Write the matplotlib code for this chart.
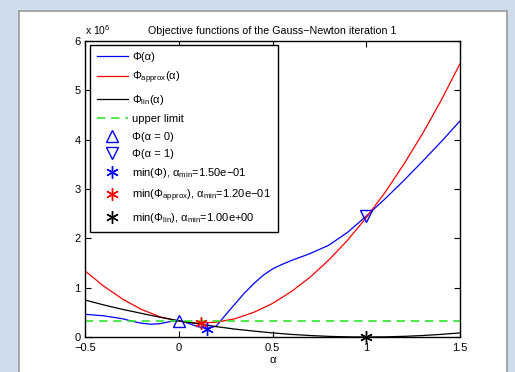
import matplotlib
matplotlib.use("Agg")
import matplotlib.pyplot as plt
from matplotlib.patches import Rectangle
import numpy as np

plt.rcParams['font.family'] = ['Liberation Sans', 'DejaVu Sans']
plt.rcParams['mathtext.fontset'] = 'custom'
plt.rcParams['mathtext.rm'] = 'Liberation Sans'
plt.rcParams['mathtext.it'] = 'Liberation Sans'
plt.rcParams['font.size'] = 8

# alpha grid (step sizes), values in units of 1e6
alpha_phi = [-0.5, -0.4, -0.3, -0.25, -0.2, -0.15, -0.1, -0.05, 0.0, 0.05, 0.1, 0.15,
             0.2, 0.25, 0.3, 0.35, 0.4, 0.45, 0.5, 0.55, 0.6, 0.7, 0.8, 0.9, 1.0,
             1.1, 1.2, 1.3, 1.4, 1.5]
phi = [0.46, 0.43, 0.37, 0.32, 0.28, 0.26, 0.27, 0.31, 0.33, 0.28, 0.21, 0.17,
       0.22, 0.45, 0.67, 0.89, 1.08, 1.25, 1.38, 1.47, 1.55, 1.69, 1.86, 2.12, 2.45,
       2.80, 3.17, 3.56, 3.96, 4.38]

alpha_grid = [-0.5, -0.4, -0.3, -0.2, -0.1, 0.0, 0.1, 0.2, 0.3, 0.4, 0.5, 0.6, 0.7,
              0.8, 0.9, 1.0, 1.1, 1.2, 1.3, 1.4, 1.5]
phi_approx = [1.34, 1.03, 0.77, 0.56, 0.41, 0.32, 0.28, 0.30, 0.37, 0.50, 0.68, 0.92,
              1.21, 1.56, 1.96, 2.42, 2.93, 3.50, 4.12, 4.80, 5.54]
phi_lin = [0.75, 0.65, 0.56, 0.48, 0.40, 0.33, 0.27, 0.21, 0.16, 0.12, 0.083, 0.053,
           0.030, 0.013, 0.003, 0.0, 0.003, 0.013, 0.030, 0.053, 0.083]

upper_limit = 0.33

phi0 = (0.0, 0.33)
phi1 = (1.0, 2.45)
min_phi = (0.15, 0.17)
min_approx = (0.12, 0.28)
min_lin = (1.0, 0.0)

labels = [r'Φ(α)', r'Φ$_{\mathrm{approx}}$(α)', r'Φ$_{\mathrm{lin}}$(α)', 'upper limit',
          'Φ(α = 0)', 'Φ(α = 1)',
          r'min(Φ), α$_{\mathrm{min}}$=1.50e−01',
          r'min(Φ$_{\mathrm{approx}}$), α$_{\mathrm{min}}$=1.20e−01',
          r'min(Φ$_{\mathrm{lin}}$), α$_{\mathrm{min}}$=1.00e+00']

fig = plt.figure(figsize=(5.15, 3.72), dpi=100)
fig.patch.set_facecolor('#cfdcec')
panel = Rectangle((19 / 515, -0.01), (507 - 19) / 515, 1 - 11 / 372 + 0.01,
                  transform=fig.transFigure, facecolor='white', edgecolor='#9a9a9a',
                  linewidth=1.2, zorder=-10)
fig.patches.append(panel)

ax = fig.add_axes([85 / 515, 1 - 337 / 372, (460 - 85) / 515, (337 - 41) / 372])
ax.set_zorder(1)

star = (6, 2, 0)
lw = 0.9
ax.plot(alpha_phi, phi, color='blue', lw=lw, label=labels[0])
ax.plot(alpha_grid, phi_approx, color='red', lw=lw, label=labels[1])
ax.plot(alpha_grid, phi_lin, color='black', lw=lw, label=labels[2])
ax.plot([alpha_grid[0], alpha_grid[-1]], [upper_limit, upper_limit], color='#2ee62e',
        lw=1.2, dashes=(5, 3.5), label=labels[3])
ax.plot(*phi0, ls='none', marker='^', ms=9, mfc='none', mec='blue', mew=1, label=labels[4])
ax.plot(*phi1, ls='none', marker='v', ms=9, mfc='none', mec='blue', mew=1, label=labels[5])
ax.plot(*min_phi, ls='none', marker=star, ms=9, color='blue', mew=1, label=labels[6])
ax.plot(*min_approx, ls='none', marker=star, ms=9, color='red', mew=1, label=labels[7])
ax.plot(*min_lin, ls='none', marker=star, ms=9, color='black', mew=1, label=labels[8],
        clip_on=False)

ax.set_xlim(-0.5, 1.5)
ax.set_ylim(0, 6)
ax.set_xticks([-0.5, 0, 0.5, 1, 1.5])
ax.set_xticklabels(['−0.5', '0', '0.5', '1', '1.5'])
ax.set_yticks(range(7))
ax.set_yticklabels([str(i) for i in range(7)])
ax.tick_params(direction='in', top=True, right=True, length=4, width=0.8, pad=3)
ax.tick_params(axis='x', pad=4)
for s in ax.spines.values():
    s.set_linewidth(1.0)

ax.text(0.0, 1.012, 'x 10$^{6}$', transform=ax.transAxes, ha='left', va='bottom',
        fontsize=7.5)
ax.set_title('Objective functions of the Gauss−Newton iteration 1', fontsize=7.7, pad=5)
ax.set_xlabel('α', labelpad=2)

leg = ax.legend(loc='upper left', bbox_to_anchor=(0.013, 0.986), borderaxespad=0,
                fancybox=False, edgecolor='black', framealpha=1, handlelength=2.8,
                labelspacing=0.66, borderpad=0.6, handletextpad=0.4)
leg.get_frame().set_linewidth(1.0)

fig.savefig('out.png', dpi=100, facecolor=fig.get_facecolor())
